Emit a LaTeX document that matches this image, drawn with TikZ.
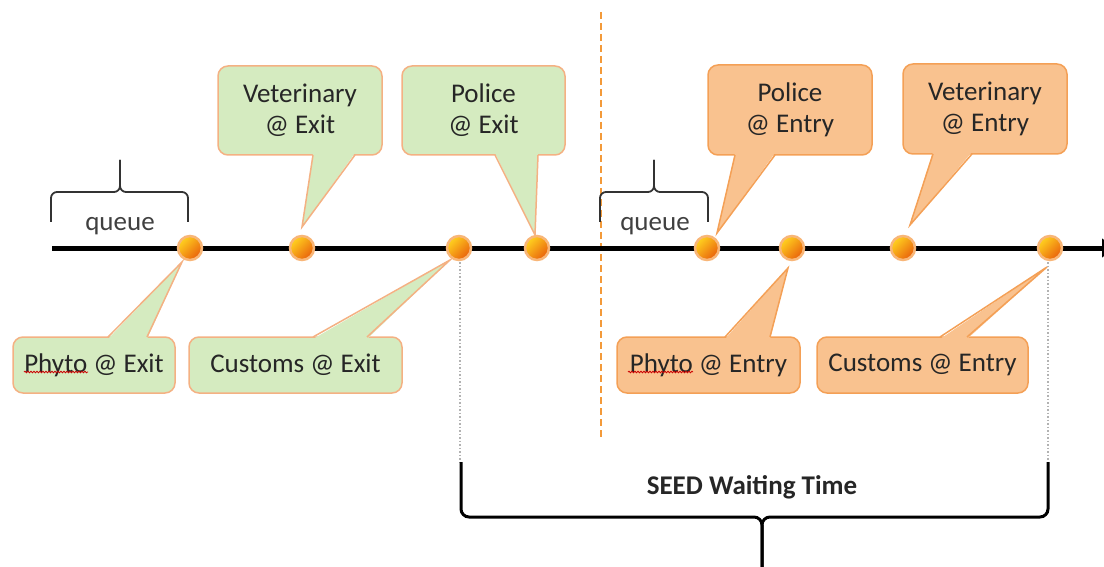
\documentclass[tikz,border=0pt]{standalone}
\usepackage{fontspec}
\setmainfont{Carlito}
\usetikzlibrary{arrows.meta,decorations.pathmorphing}
\definecolor{gfill}{HTML}{D5EBC0}
\definecolor{gline}{HTML}{F4B183}
\definecolor{ofill}{HTML}{F9C28F}
\definecolor{oline}{HTML}{F4A056}
\definecolor{txt}{HTML}{262626}
\definecolor{qtxt}{HTML}{404040}
\definecolor{dotline}{HTML}{F8B678}
\definecolor{dotA}{HTML}{FFD21F}
\definecolor{dotB}{HTML}{E9600C}
\definecolor{vdash}{HTML}{F39A3A}
\begin{document}
\begin{tikzpicture}[x=1pt,y=-1pt,
  box/.style={rounded corners=10pt, inner sep=0pt, align=center, text=txt,
    font=\fontsize{27}{31}\selectfont, line width=1.5pt},
  gbox/.style={box, fill=gfill, draw=gline},
  obox/.style={box, fill=ofill, draw=oline},
  gtailfill/.style={fill=gfill},
  gtailline/.style={draw=gline, line width=1.5pt, line join=miter},
  otailfill/.style={fill=ofill},
  otailline/.style={draw=oline, line width=1.5pt, line join=miter},
  dotnode/.style={circle, minimum size=24pt, inner sep=0pt, draw=dotline, line width=2.5pt,
    left color=dotA, right color=dotB, shading angle=45},
  qbrace/.style={draw=black!80, line width=1.8pt, rounded corners=6pt},
  bigbrace/.style={draw=black, line width=3pt, rounded corners=8pt},
  qlabel/.style={text=qtxt, font=\fontsize{27}{30}\selectfont, inner sep=0pt},
  guide/.style={draw=black!30, line width=1.5pt, dotted},
  border/.style={draw=vdash, line width=2.5pt, dash pattern=on 7pt off 4pt},
  squig/.style={draw=red!80!black, line width=0.8pt, decorate,
    decoration={snake, amplitude=0.8pt, segment length=3pt}},
  timeline/.style={draw=black, line width=5pt, -{Triangle[length=14pt,width=18pt]}}
]
\useasboundingbox (0,0) rectangle (1104,567);
\clip (0,0) rectangle (1104,567);

% border between exit and entry
\coordinate (b0) at (601,12);
\coordinate (b1) at (601,437);
\draw[border] (b0) -- (b1);

% guide lines
\coordinate (g1a) at (460,262); \coordinate (g1b) at (460,462);
\coordinate (g2a) at (1048,262); \coordinate (g2b) at (1048,462);
\draw[guide] (g1a) -- (g1b);
\draw[guide] (g2a) -- (g2b);

% ---------- callouts (green, exit) ----------
\node[gbox, minimum width=164pt, minimum height=89pt] (vexit) at (300,110.5) {Veterinary\\@ Exit};
\coordinate (tvexit) at (302,227);
\fill[gtailfill] (313,153) -- (tvexit) -- (355,153) -- cycle;
\draw[gtailline] (313,155) -- (tvexit) -- (355,155);

\node[gbox, minimum width=163pt, minimum height=89pt] (pexit) at (483.5,110.5) {Police\\@ Exit};
\coordinate (tpexit) at (535,235);
\fill[gtailfill] (495,153) -- (tpexit) -- (538,153) -- cycle;
\draw[gtailline] (495,155) -- (tpexit) -- (538,155);

\node[gbox, minimum width=162pt, minimum height=56pt] (phexit) at (94,365) {Phyto @ Exit};
\coordinate (tphexit) at (182,262);
\fill[gtailfill] (108,339) -- (tphexit) -- (147,339) -- cycle;
\draw[gtailline] (108,337) -- (tphexit) -- (147,337);

\node[gbox, minimum width=213pt, minimum height=56pt] (cexit) at (295.5,365) {Customs @ Exit};
\coordinate (tcexit) at (450,260);
\fill[gtailfill] (313,339) -- (tcexit) -- (367,339) -- cycle;
\draw[gtailline] (313,337) -- (tcexit) -- (367,337);

% ---------- callouts (orange, entry) ----------
\node[obox, minimum width=164pt, minimum height=90pt] (pentry) at (790,110) {Police\\@ Entry};
\coordinate (tpentry) at (717,233);
\fill[otailfill] (735,153) -- (tpentry) -- (775,153) -- cycle;
\draw[otailline] (735,155) -- (tpentry) -- (775,155);

\node[obox, minimum width=164pt, minimum height=90pt] (ventry) at (985,109) {Veterinary\\@ Entry};
\coordinate (tventry) at (910,225);
\fill[otailfill] (933,152) -- (tventry) -- (972,152) -- cycle;
\draw[otailline] (933,154) -- (tventry) -- (972,154);

\node[obox, minimum width=183pt, minimum height=56pt] (phentry) at (708.5,365) {Phyto @ Entry};
\coordinate (tphentry) at (788,268);
\fill[otailfill] (725,339) -- (tphentry) -- (770,339) -- cycle;
\draw[otailline] (725,337) -- (tphentry) -- (770,337);

\node[obox, minimum width=211pt, minimum height=56pt] (centry) at (922.5,365) {Customs @ Entry};
\coordinate (tcentry) at (1047,267);
\fill[otailfill] (940,339) -- (tcentry) -- (967,339) -- cycle;
\draw[otailline] (940,337) -- (tcentry) -- (967,337);

% spell-check squiggles
\draw[squig] (24,372) -- (88,372);
\draw[squig] (628,372) -- (693,372);

% ---------- timeline ----------
\coordinate (tl0) at (52,248);
\coordinate (tl1) at (1116,248);
\draw[timeline] (tl0) -- (tl1);

\node[dotnode] (d1) at (190,248) {};
\node[dotnode] (d2) at (302,248) {};
\node[dotnode] (d3) at (459,248) {};
\node[dotnode] (d4) at (537,248) {};
\node[dotnode] (d5) at (707,248) {};
\node[dotnode] (d6) at (792,248) {};
\node[dotnode] (d7) at (903,248) {};
\node[dotnode] (d8) at (1050,248) {};

% ---------- queue braces ----------
\draw[qbrace] (51,222) -- (51,192) -- (120,192) -- (120,160);
\draw[qbrace] (188,222) -- (188,192) -- (120,192) -- (120,160);
\node[qlabel] (q1) at (120,226) {queue};

\draw[qbrace] (600,222) -- (600,192) -- (654,192) -- (654,160);
\draw[qbrace] (708,222) -- (708,192) -- (654,192) -- (654,160);
\node[qlabel] (q2) at (655,226) {queue};

% ---------- SEED waiting time brace ----------
\draw[bigbrace] (461,462) -- (461,517) -- (762,517) -- (762,580);
\draw[bigbrace] (1048,462) -- (1048,517) -- (762,517) -- (762,580);
\node[text=txt, font=\fontsize{27}{30}\selectfont\bfseries, inner sep=0pt] (seed) at (752,487) {SEED Waiting Time};
\end{tikzpicture}
\end{document}
